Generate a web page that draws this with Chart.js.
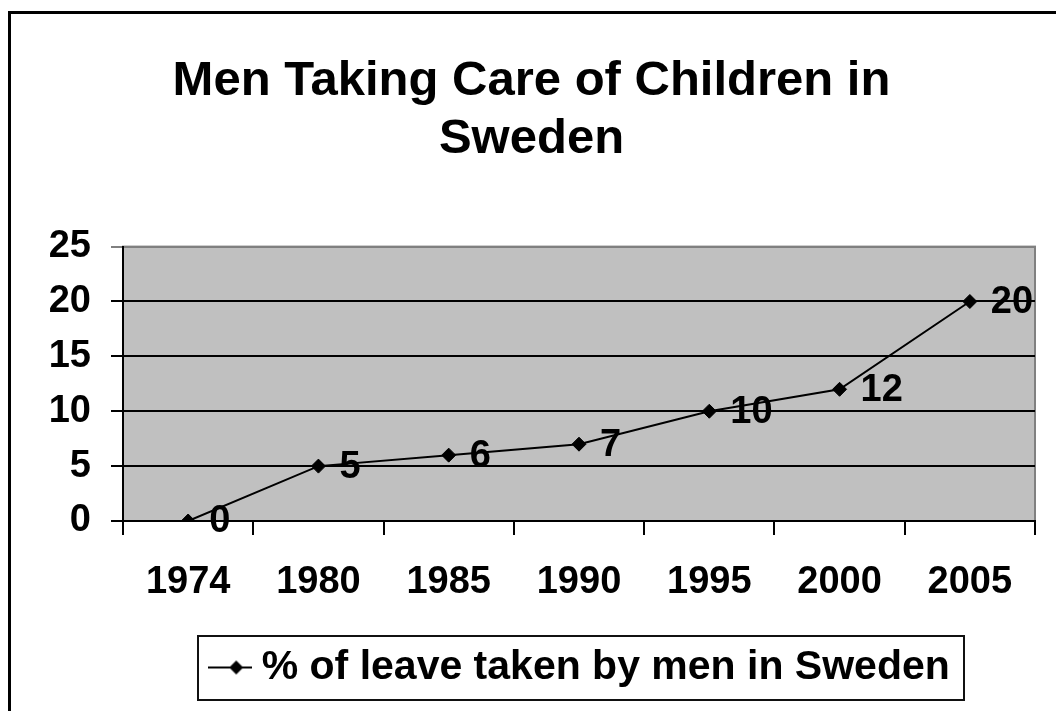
<!DOCTYPE html>
<html lang="en">
<head>
    <meta charset="UTF-8">
    <title>Men Taking Care of Children in Sweden</title>
    <script src="https://cdn.jsdelivr.net/npm/chart.js"></script>
    <style>
        body { margin: 0; background: #fff; }
    </style>
</head>
<body>
    <canvas id="swedenChart" width="1056" height="711"></canvas>

    <script>
        const years = ['1974', '1980', '1985', '1990', '1995', '2000', '2005'];
        const leaveShare = [0, 5, 6, 7, 10, 12, 20];
        const seriesName = '% of leave taken by men in Sweden';
        const titleLines = ['Men Taking Care of Children in', 'Sweden'];

        const FONT = '"Liberation Sans", Arial, sans-serif';

        // legend marker: line with a diamond on it
        const marker = document.createElement('canvas');
        marker.width = 44;
        marker.height = 16;
        const mctx = marker.getContext('2d');
        mctx.strokeStyle = '#000';
        mctx.lineWidth = 2;
        mctx.beginPath();
        mctx.moveTo(0, 8);
        mctx.lineTo(44, 8);
        mctx.stroke();
        mctx.fillStyle = '#000';
        mctx.beginPath();
        mctx.moveTo(28, 1);
        mctx.lineTo(35, 8);
        mctx.lineTo(28, 15);
        mctx.lineTo(21, 8);
        mctx.closePath();
        mctx.fill();

        const framePlugin = {
            id: 'frame',
            afterLayout(chart) {
                // legend and title sit a bit right of centre in the original
                chart.legend.left += 67;
                chart.legend.right += 67;
                chart.titleBlock.left += 14;
                chart.titleBlock.right += 14;
            },
            beforeDraw(chart) {
                const c = chart.ctx;
                const a = chart.chartArea;
                c.save();
                c.fillStyle = '#000';
                c.fillRect(8, 11, 3, chart.height);
                c.fillRect(8, 11, chart.width, 3);
                c.fillStyle = '#c0c0c0';
                c.fillRect(a.left, a.top, a.right - a.left, a.bottom - a.top);
                c.strokeStyle = '#808080';
                c.lineWidth = 2;
                c.strokeRect(a.left, a.top, a.right - a.left, a.bottom - a.top);
                c.restore();
            },
            afterDraw(chart) {
                const c = chart.ctx;
                c.save();
                c.strokeStyle = '#111';
                c.lineWidth = 2;
                c.strokeRect(198, 636, 766, 64);
                c.restore();
            }
        };

        const valueLabels = {
            id: 'valueLabels',
            afterDatasetsDraw(chart) {
                const c = chart.ctx;
                const meta = chart.getDatasetMeta(0);
                c.save();
                c.font = 'bold 38px ' + FONT;
                c.fillStyle = '#000';
                c.textAlign = 'left';
                c.textBaseline = 'middle';
                meta.data.forEach((pt, i) => {
                    c.fillText(String(leaveShare[i]), pt.x + 21, pt.y + 1);
                });
                c.restore();
            }
        };

        const ctx = document.getElementById('swedenChart').getContext('2d');
        const swedenChart = new Chart(ctx, {
            type: 'line',
            data: {
                labels: years,
                datasets: [{
                    label: seriesName,
                    data: leaveShare,
                    borderColor: '#000',
                    backgroundColor: '#000',
                    borderWidth: 2,
                    pointStyle: 'rectRot',
                    pointRadius: 7,
                    pointBorderWidth: 1,
                    tension: 0
                }]
            },
            options: {
                responsive: false,
                animation: false,
                layout: {
                    padding: { left: 0, right: 21, top: 0, bottom: 13 }
                },
                plugins: {
                    title: {
                        display: true,
                        text: titleLines,
                        color: '#000',
                        font: { family: FONT, size: 49, weight: 'bold', lineHeight: 1.19 },
                        padding: { top: 52, bottom: 78 }
                    },
                    legend: {
                        position: 'bottom',
                        labels: {
                            color: '#000',
                            font: { family: FONT, size: 41, weight: 'bold' },
                            usePointStyle: true,
                            pointStyleWidth: 22,
                            padding: 10,
                            generateLabels(chart) {
                                return [{
                                    text: seriesName,
                                    pointStyle: marker,
                                    fillStyle: '#000',
                                    strokeStyle: '#000',
                                    lineWidth: 0,
                                    datasetIndex: 0
                                }];
                            }
                        }
                    },
                    tooltip: { enabled: false }
                },
                scales: {
                    x: {
                        offset: true,
                        afterFit(scale) { scale.height = 116; },
                        grid: {
                            offset: true,
                            drawOnChartArea: false,
                            color: '#000',
                            lineWidth: 2,
                            tickLength: 14
                        },
                        border: { color: '#000', width: 2 },
                        ticks: {
                            color: '#000',
                            padding: 25,
                            maxRotation: 0,
                            font: { family: FONT, size: 38, weight: 'bold' }
                        }
                    },
                    y: {
                        min: 0,
                        max: 25,
                        afterFit(scale) { scale.width = 123; },
                        grid: {
                            color: (c) => c.tick && c.tick.value === 25 ? '#808080' : '#000',
                            lineWidth: 2,
                            tickLength: 12
                        },
                        border: { color: '#000', width: 2 },
                        ticks: {
                            stepSize: 5,
                            color: '#000',
                            padding: 20,
                            font: { family: FONT, size: 38, weight: 'bold' }
                        }
                    }
                }
            },
            plugins: [framePlugin, valueLabels]
        });
    </script>
</body>
</html>
